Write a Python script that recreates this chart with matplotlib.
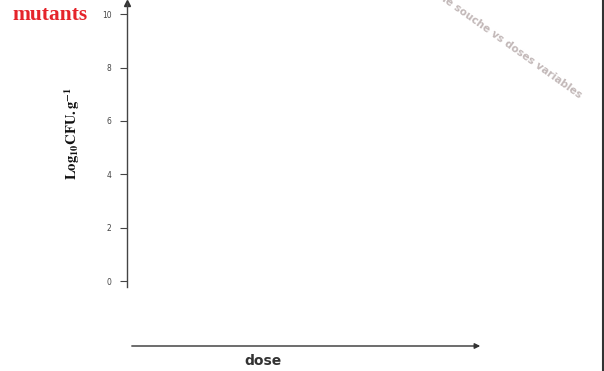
import matplotlib.pyplot as plt

# axe des ordonnées : log10 UFC par gramme
y_ticks = [0, 2, 4, 6, 8, 10]
y_label = r'$\mathbf{Log_{10}CFU{.}g^{-1}}$'
x_label = 'dose'
titre = 'mutants'
sous_titre = 'Même souche vs doses variables'

plt.rcParams['mathtext.fontset'] = 'stix'

W, H = 604, 371
fig = plt.figure(figsize=(W / 100, H / 100), dpi=100)

def fx(px):
    return px / W

def fy(py):
    return 1 - py / H

# axes : spine gauche de y=287 px (bas) à y=3 px (haut)
ax = fig.add_axes([fx(127), fy(287), fx(480) - fx(127), fy(3) - fy(287)])
ax.set_ylim(-0.22, 10.42)
ax.set_xlim(0, 1)
for s in ['top', 'right', 'bottom']:
    ax.spines[s].set_visible(False)
ax.spines['left'].set_color('#444444')
ax.spines['left'].set_linewidth(1.0)
ax.set_xticks([])
ax.set_yticks(y_ticks)
ax.set_yticklabels([str(v) for v in y_ticks], fontsize=5.5, color='#444444')
ax.tick_params(axis='y', direction='out', length=5, width=0.8, color='#444444', pad=6)
ax.patch.set_alpha(0)

# flèche au sommet de l'axe y
ax.plot([0], [10.42], marker='^', markersize=5, color='#333333', clip_on=False,
        transform=ax.get_yaxis_transform())

# libellé de l'axe y
fig.text(fx(72), fy(133), y_label, fontsize=10.5, color='#111111',
         rotation=90, ha='center', va='center')

# titre en rouge
fig.text(fx(12), fy(20), titre, fontsize=15.5, fontweight='bold', color='#e5242b',
         family='Liberation Serif', ha='left', va='baseline')

# sous-titre en diagonale (coupé par le haut de la figure)
fig.text(fx(579), fy(99), sous_titre, fontsize=7.6, fontweight='bold', color='#c2b8b8',
         rotation=-35.5, rotation_mode='anchor', ha='right', va='baseline')

# flèche horizontale pour la dose
fig.patches.append(plt.matplotlib.patches.FancyArrowPatch(
    (fx(129), fy(346)), (fx(483), fy(346)), transform=fig.transFigure,
    arrowstyle='-|>', mutation_scale=8, color='#333333', lw=1.0))
fig.text(fx(263), fy(361), x_label, fontsize=10, fontweight='bold', color='#333333',
         ha='center', va='center')

# trait vertical au bord droit
fig.add_artist(plt.Line2D([fx(602.5), fx(602.5)], [0, 1], color='#333333', lw=1.5))

fig.savefig('out.png', dpi=100)
